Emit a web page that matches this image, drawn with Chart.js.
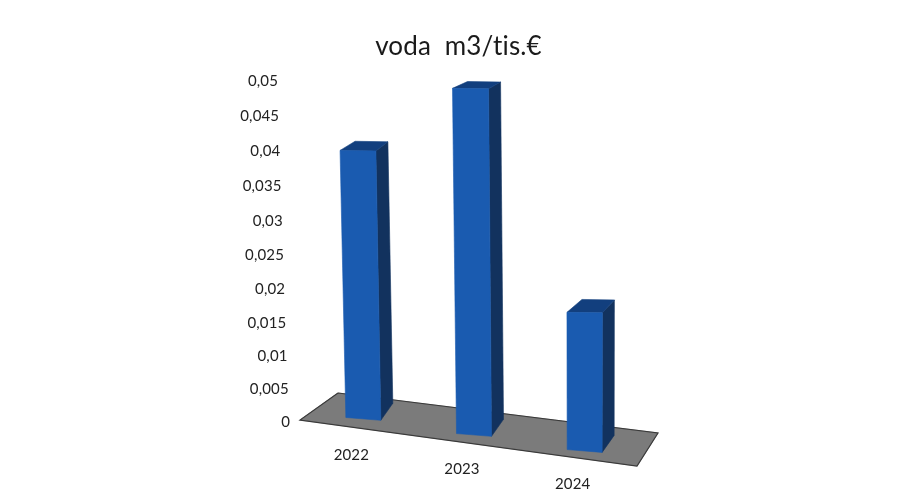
<!DOCTYPE html>
<html>
<head>
<meta charset="utf-8">
<style>
  html, body { margin: 0; background: #fff; }
  canvas { display: block; }
</style>
<script src="https://cdn.jsdelivr.net/npm/chart.js@4"></script>
</head>
<body>
<canvas id="voda" width="901" height="499"></canvas>
<script>
const categories = ['2022', '2023', '2024'];
const vodaValues = [0.04, 0.05, 0.02];
const yTickLabels = ['0', '0,005', '0,01', '0,015', '0,02', '0,025', '0,03', '0,035', '0,04', '0,045', '0,05'];
const chartTitle = 'voda  m3/tis.€';

const FRONT = '#1a5bb0', SIDE = '#12325e', TOP = '#123f7e', FLOOR = '#7b7b7b';

/* fake Excel 3D perspective: bases slide down to the right */
const dropAt = x => (x - 364) * 0.145 - 3;

function quad(ctx, pts, color) {
    ctx.fillStyle = color;
    ctx.strokeStyle = color;
    ctx.lineWidth = 0.6;
    ctx.beginPath();
    pts.forEach((p, i) => i ? ctx.lineTo(p[0], p[1]) : ctx.moveTo(p[0], p[1]));
    ctx.closePath();
    ctx.fill();
    ctx.stroke();
}

function drawBox(ctx, el) {
    const hw = el.width / 2;
    const baseY = el.base + dropAt(el.x);
    const h = (el.base - el.y) * Math.min(1.017, 0.985 + (el.x - 364) * 0.0003);
    const lean = x => (x - 585) * 9e-5 * h;
    const dx = 12;
    const dyBottom = -17;
    const dyTop = dyBottom + 10 * h / 341;

    const bl = [el.x - hw, baseY - 1.4];
    const br = [el.x + hw, baseY + 1.4];
    const tl = [bl[0] + lean(bl[0]), baseY - h];
    const tr = [br[0] + lean(br[0]), baseY - h + 0.5];

    quad(ctx, [br, tr, [tr[0] + dx, tr[1] + dyTop], [br[0] + dx, br[1] + dyBottom]], SIDE);
    quad(ctx, [tl, [tl[0] + dx + 3, tl[1] + dyTop], [tr[0] + dx, tr[1] + dyTop], tr], TOP);
    quad(ctx, [bl, tl, tr, br], FRONT);
}

const perspectivePlugin = {
    id: 'perspective',
    afterLayout(chart) {
        // title sits a bit right of the canvas centre
        chart.titleBlock.left = 16;
        chart.titleBlock.right = chart.width;
    },
    afterUpdate(chart) {
        const area = chart.chartArea;
        chart.getDatasetMeta(0).data.forEach(el => {
            el.draw = ctx => drawBox(ctx, el);
        });
        const y = chart.scales.y;
        y.getLabelItems().forEach((item, i) => {
            const t = y.ticks[i].value / y.max;
            item.options.translation = [area.left - 18 - 12 * t, y.getPixelForValue(y.ticks[i].value) + 14 * t * (1 - t)];
            item.options.textBaseline = 'middle';
            item.textOffset = 0;
        });
        const x = chart.scales.x;
        x.getLabelItems().forEach((item, i) => {
            const px = x.getPixelForTick(i);
            item.options.translation = [px - 12, area.bottom + 33 + (px - 364) * 0.131];
            item.options.textBaseline = 'middle';
            item.textOffset = 0;
        });
    },
    beforeDraw(chart) {
        // letter spacing also stops Lato from joining the "ti" in the title
        chart.ctx.letterSpacing = '0.15px';
    },
    beforeDatasetsDraw(chart) {
        const { ctx, chartArea: a } = chart;
        const fl = [a.left - 8, a.bottom - 2];
        const bl = [a.left + 30, a.bottom - 29];
        const br = [a.right + 18, a.bottom + 11];
        const fr = [a.right - 3, a.bottom + 44];
        quad(ctx, [fl, bl, br, fr], FLOOR);
        ctx.strokeStyle = '#3a3a3a';
        ctx.lineWidth = 1.2;
        ctx.beginPath();
        ctx.moveTo(bl[0], bl[1]);
        ctx.lineTo(fl[0], fl[1]);
        ctx.lineTo(fr[0], fr[1]);
        ctx.lineTo(br[0], br[1]);
        ctx.lineTo(bl[0], bl[1]);
        ctx.stroke();
    }
};

new Chart(document.getElementById('voda').getContext('2d'), {
    type: 'bar',
    data: {
        labels: categories,
        datasets: [{
            data: vodaValues,
            backgroundColor: FRONT,
            barPercentage: 0.316,
            categoryPercentage: 1,
            clip: false
        }]
    },
    options: {
        responsive: false,
        animation: false,
        layout: { padding: { top: 31, right: 261, bottom: 0, left: 0 } },
        plugins: {
            legend: { display: false },
            tooltip: { enabled: false },
            title: {
                display: true,
                text: chartTitle,
                color: '#1a1a1a',
                font: { family: 'Lato', size: 26, weight: 'normal' },
                padding: { top: 0, bottom: 19 }
            }
        },
        scales: {
            x: {
                grid: { display: false },
                border: { display: false },
                ticks: { color: '#222', font: { family: 'Lato', size: 15 }, autoSkip: false, maxRotation: 0 },
                afterFit(scale) { scale.height = 77; }
            },
            y: {
                min: 0,
                max: 0.05,
                grid: { display: false },
                border: { display: false },
                ticks: {
                    stepSize: 0.005,
                    color: '#222',
                    font: { family: 'Lato', size: 15 },
                    callback: (v, i) => yTickLabels[i]
                },
                afterFit(scale) { scale.width = 308; }
            }
        }
    },
    plugins: [perspectivePlugin]
});
</script>
</body>
</html>
